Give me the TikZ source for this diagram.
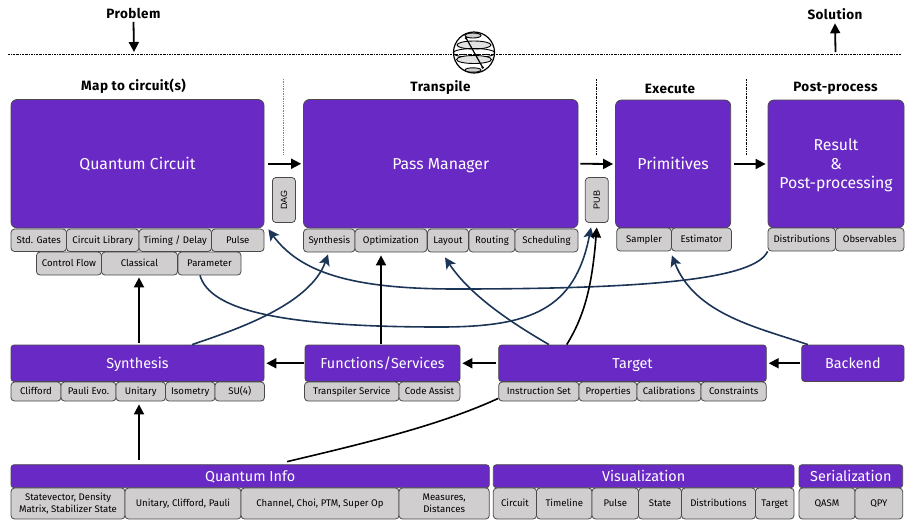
\documentclass[tikz,border=0pt]{standalone}
\usepackage{fontspec}
\setmainfont{Fira Sans}
\newfontfamily\rotfont{Liberation Sans}
\newfontfamily\headfont[LetterSpace=3]{Fira Sans}
\usetikzlibrary{arrows.meta,calc}
\definecolor{qpurple}{HTML}{6929C4}
\definecolor{qgray}{HTML}{D0CECE}
\definecolor{qedge}{HTML}{4A4A4A}
\definecolor{qnavy}{HTML}{1C3557}
\tikzset{
 mainbox/.style={draw=qedge,line width=.8pt,fill=qpurple,rounded corners=6pt,text=white,align=center,inner sep=0pt,font=\fontsize{15.8}{19}\selectfont},
 barbox/.style={draw=qedge,line width=.8pt,fill=qpurple,rounded corners=3pt,text=white,align=center,inner sep=0pt,font=\fontsize{14.4}{17}\selectfont},
 tagbox/.style={draw=qedge,line width=.8pt,fill=qgray,rounded corners=3.5pt,text=black,align=center,inner sep=0pt,font=\fontsize{9.6}{12}\selectfont},
 head/.style={text=black,inner sep=0pt,font=\headfont\fontsize{13.5}{16}\bfseries\selectfont},
 blackarrow/.style={black,line width=1.8pt,-{Triangle[length=10pt,width=10pt]}},
 navyarrow/.style={qnavy,line width=1.6pt,-{Stealth[length=11pt,width=11pt,inset=2.5pt]}},
 plainline/.style={black,line width=1.6pt},
 sep/.style={black,line width=.6pt,dash pattern=on 2pt off 1pt on .6pt off 1pt},
}
\newcommand{\qstrut}{\rule[-.21em]{0pt}{1.11em}}
\newcommand{\bx}[7][]{%
 \pgfmathsetmacro{\qw}{#5-#3}\pgfmathsetmacro{\qh}{#6-#4}%
 \pgfmathsetmacro{\qx}{(#5+#3)/2}\pgfmathsetmacro{\qy}{(#6+#4)/2}%
 \node[#1,minimum width=\qw pt,minimum height=\qh pt] (#2) at (\qx,\qy) {\qstrut #7\qstrut};}
\begin{document}
\begin{tikzpicture}[x=1pt,y=-1pt]
\useasboundingbox (0,0) rectangle (912,523);
% rule and globe
\draw[sep] (8,54) -- (901,54);
\node[inner sep=0pt,minimum size=41pt,circle,draw=black,line width=1.2pt] (globe) at (474,52.5) {};
\begin{scope}
\clip (474,52.5) circle (20.5);
\draw[black,line width=.9pt,fill=qgray] (473,35.5) ellipse (8 and 2.5);
\draw[black,line width=.9pt,fill=qgray!60] (474,45) ellipse (17 and 4);
\draw[black,line width=.9pt] (474,53) ellipse (21 and 4.5);
\draw[black,line width=.9pt,fill=qgray!60] (474,59.5) ellipse (17.5 and 4);
\draw[black,line width=.9pt,fill=qgray] (473,70) ellipse (8 and 2.2);
\end{scope}
\draw[sep] (456,54) -- (491,54);
\draw[black,line width=1.2pt] (466,38) -- (482.7,67.5);
\fill[black] (466,38) circle (1.4) (482.7,67.5) circle (1.4);
% separators
\draw[gray,line width=.7pt,densely dotted] (283.5,79) -- (283.5,155);
\draw[sep] (596.5,79) -- (596.5,155);
\draw[sep] (746.5,79) -- (746.5,155);
% headers
\node[head] (problem) at (133.5,13.5) {Problem};
\node[head] (solution) at (835,14.5) {Solution};
\node[head] (hmap) at (133.5,86.5) {Map to circuit(s)};
\node[head] (htr) at (440.5,87.5) {Transpile};
\node[head] (hex) at (670,88.5) {Execute};
\node[head] (hpo) at (835.5,88.5) {Post-process};
\coordinate (pin) at (134,52);
\coordinate (sout) at (835.5,52);
% main boxes
\bx[mainbox]{qc}{11}{99.5}{264}{228}{Quantum Circuit}
\bx[mainbox]{pm}{303.5}{99.5}{578}{228}{Pass Manager}
\bx[mainbox]{prim}{615.5}{100}{730.7}{228}{Primitives}
\bx[mainbox]{res}{768}{100}{904}{228}{Result\\\&\\Post-processing}
% tags of circuit
\bx[tagbox]{tgates}{11}{229}{66.5}{251.5}{Std. Gates}
\bx[tagbox]{tlib}{66.5}{229}{139}{251.5}{Circuit Library}
\bx[tagbox]{ttime}{139}{229}{211.5}{251.5}{Timing / Delay}
\bx[tagbox]{tpulse}{211.5}{229}{264}{251.5}{Pulse}
\bx[tagbox]{tflow}{36.5}{252}{101.5}{275}{Control Flow}
\bx[tagbox]{tclass}{101.5}{252}{177.5}{275}{Classical}
\bx[tagbox]{tparam}{178}{252}{241}{275}{Parameter}
% tags of pass manager
\bx[tagbox]{tsyn}{303.5}{229}{355}{252}{Synthesis}
\bx[tagbox]{topt}{355}{229}{427}{252}{Optimization}
\bx[tagbox]{tlay}{427.5}{229}{468.5}{252}{Layout}
\bx[tagbox]{trout}{469}{229}{515}{252}{Routing}
\bx[tagbox]{tsch}{515}{229}{578}{252}{Scheduling}
% tags of primitives and result
\bx[tagbox]{tsam}{616.7}{228}{671.5}{251}{Sampler}
\bx[tagbox]{test}{671.5}{228}{731.5}{251}{Estimator}
\bx[tagbox]{tdis}{768}{228}{835.5}{251}{Distributions}
\bx[tagbox]{tobs}{835.5}{228}{904}{251}{Observables}
% DAG and PUB
\node[tagbox,rotate=90,minimum width=45pt,minimum height=23pt,font=\rotfont\fontsize{9}{11}\selectfont] (dag) at (283.9,200) {DAG};
\node[tagbox,rotate=90,minimum width=45pt,minimum height=23pt,font=\rotfont\fontsize{9}{11}\selectfont] (pub) at (596.8,200) {PUB};
% middle row
\bx[barbox]{syn}{11}{345}{264}{381.5}{Synthesis}
\bx[tagbox]{tcl}{11}{382}{61}{401}{Clifford}
\bx[tagbox]{tpa}{61}{382}{116}{401}{Pauli Evo.}
\bx[tagbox]{tun}{116}{382}{165.5}{401}{Unitary}
\bx[tagbox]{tis}{165.5}{382}{215}{401}{Isometry}
\bx[tagbox]{tsu}{215}{382}{264.5}{401}{SU(4)}
\bx[barbox]{fun}{305}{345}{460}{381.5}{Functions/Services}
\bx[tagbox]{ttr}{304.5}{382}{399}{401}{Transpiler Service}
\bx[tagbox]{tco}{399}{382}{460}{401}{Code Assist}
\bx[barbox]{tar}{498.7}{345}{766.3}{381.5}{Target}
\bx[tagbox]{tin}{498.7}{382}{579}{401}{Instruction Set}
\bx[tagbox]{tpr}{579}{382}{637}{401}{Properties}
\bx[tagbox]{tca}{637}{382}{701}{401}{Calibrations}
\bx[tagbox]{tct}{701}{382}{766.3}{401}{Constraints}
\bx[barbox]{bac}{801.7}{345}{904}{381.5}{Backend}
% bottom row
\bx[barbox]{qi}{11}{464.7}{489.3}{487.7}{Quantum Info}
\bx[tagbox]{tsv}{11}{488}{125}{519}{Statevector, Density\\Matrix, Stabilizer State}
\bx[tagbox]{tuc}{125}{488}{241}{519}{Unitary, Clifford, Pauli}
\bx[tagbox]{tch}{241}{488}{399}{519}{Channel, Choi, PTM, Super Op}
\bx[tagbox]{tme}{399}{488}{489.3}{519}{Measures,\\Distances}
\bx[barbox]{vis}{493.3}{464.7}{794}{487.7}{Visualization}
\bx[tagbox]{vci}{493.3}{488}{536.5}{519}{Circuit}
\bx[tagbox]{vti}{536.5}{488}{592}{519}{Timeline}
\bx[tagbox]{vpu}{592}{488}{638.5}{519}{Pulse}
\bx[tagbox]{vst}{638.5}{488}{681.5}{519}{State}
\bx[tagbox]{vdi}{681.5}{488}{755.5}{519}{Distributions}
\bx[tagbox]{vta}{755.5}{488}{794}{519}{Target}
\bx[barbox]{ser}{799}{464.7}{902.7}{487.7}{Serialization}
\bx[tagbox]{sqa}{799}{488}{855}{519}{QASM}
\bx[tagbox]{sqp}{855}{488}{902.7}{519}{QPY}
% navy curves
\draw[navyarrow] (tdis.south west) .. controls (755,278) and (660,289) .. (456,289)
   .. controls (350,289) and (300,272) .. ([xshift=4pt,yshift=-1pt]qc.south east);
\draw[navyarrow] ([xshift=-9.5pt]tparam.south) .. controls (210,310) and (280,327) .. (440,327)
   .. controls (530,327) and (575,310) .. ([xshift=-5.8pt,yshift=-4.5pt]pub.west);
\draw[navyarrow] ([xshift=54.5pt]syn.north) .. controls (235,330) and (310,305) .. ([xshift=-1.25pt,yshift=-2pt]tsyn.south);
\draw[navyarrow] ([xshift=-83.5pt]tar.north) .. controls (510,322) and (470,295) .. ([xshift=-3pt,yshift=-5pt]tlay.south);
\draw[navyarrow] ([xshift=-45pt]bac.north) .. controls (760,328) and (695,315) .. ([yshift=-4pt]tsam.south east);
% black curves
\draw[blackarrow,line width=1.6pt] ([xshift=-65.8pt]tar.north) .. controls (585,315) and (592,285) .. ([yshift=-4.5pt]pub.west);
\draw[plainline] ([xshift=37pt,yshift=2.7pt]qi.north) .. controls (370,442) and (440,425) .. ([yshift=3pt]tin.south west);
% black arrows
\draw[blackarrow] ([yshift=-3pt]problem.south) -- (pin);
\draw[blackarrow] (sout) -- ([yshift=-3pt]solution.south);
\draw[blackarrow] ([xshift=4pt]qc.east) -- ([xshift=-2pt]pm.west);
\draw[blackarrow] ([xshift=2pt]pm.east) -- ([xshift=-2pt]prim.west);
\draw[blackarrow] ([xshift=3pt]prim.east) -- ([xshift=-2pt]res.west);
\draw[blackarrow] ($(tclass.south |- syn.north)+(-.5,-2)$) -- ([xshift=-.5pt,yshift=-2pt]tclass.south);
\draw[blackarrow] ([xshift=-1.5pt,yshift=1pt]fun.north) -- ([xshift=-10pt,yshift=-3pt]topt.south);
\draw[blackarrow] ($(tun.south |- qi.north)+(-1.75,-4)$) -- ([xshift=-1.75pt,yshift=-3pt]tun.south);
\draw[blackarrow] ([xshift=-1pt]fun.west) -- ([xshift=2pt]syn.east);
\draw[blackarrow] ([xshift=-2.5pt]tar.west) -- ([xshift=2pt]fun.east);
\draw[blackarrow] ([xshift=-1.5pt]bac.west) -- ([xshift=2pt]tar.east);
\end{tikzpicture}
\end{document}
